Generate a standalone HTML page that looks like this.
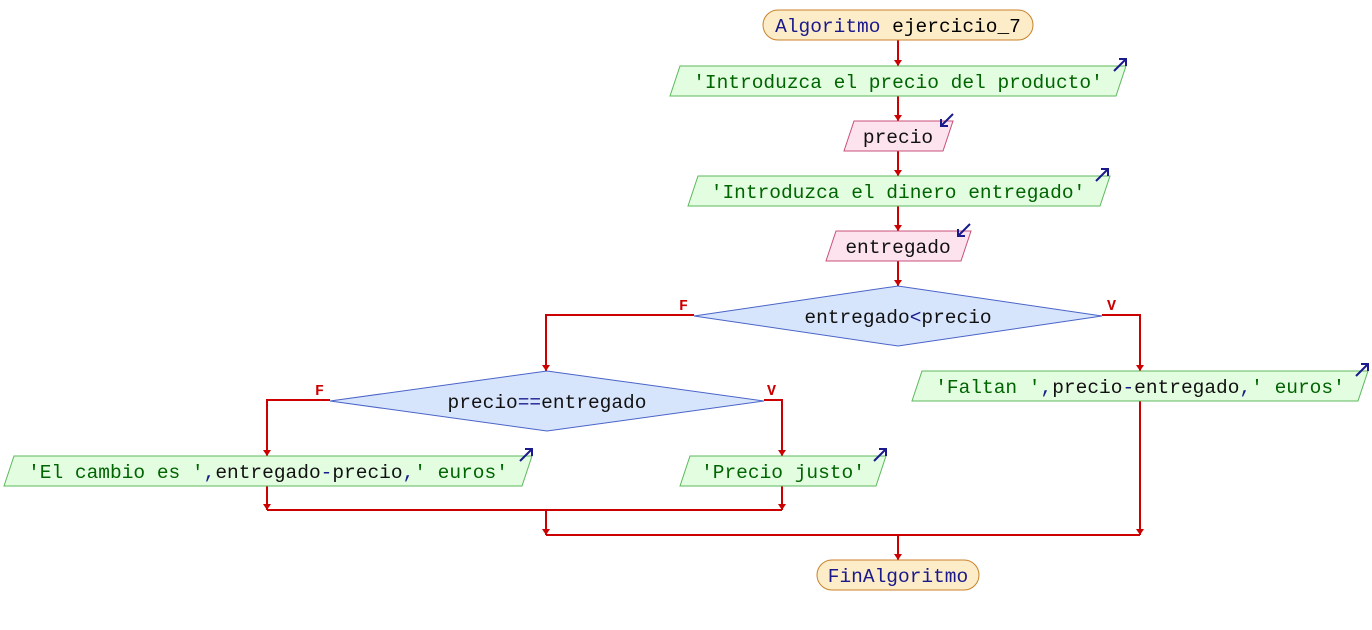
<!DOCTYPE html><html><head><style>body{margin:0;background:#fff}</style></head><body>
<svg width="1372" height="625" xmlns="http://www.w3.org/2000/svg" font-family="Liberation Mono, DejaVu Sans Mono, monospace" font-size="19.5">
<defs><marker id="a" markerWidth="8" markerHeight="6" refX="4" refY="6" orient="0" markerUnits="userSpaceOnUse"><path d="M0,0 L8,0 L4,6z" fill="#c00"/></marker></defs>
<g stroke="#c00" stroke-width="2" fill="none">
<path d="M898,40V66" marker-end="url(#a)"/>
<path d="M898,96V121" marker-end="url(#a)"/>
<path d="M898,151V176" marker-end="url(#a)"/>
<path d="M898,206V231" marker-end="url(#a)"/>
<path d="M898,261V286" marker-end="url(#a)"/>
<path d="M694,315H546V371" marker-end="url(#a)"/>
<path d="M1102,315H1140V371" marker-end="url(#a)"/>
<path d="M330,400H267V456" marker-end="url(#a)"/>
<path d="M764,400H782V456" marker-end="url(#a)"/>
<path d="M267,486V510" marker-end="url(#a)"/>
<path d="M782,486V510" marker-end="url(#a)"/>
<path d="M267,510H782"/>
<path d="M546,510V535" marker-end="url(#a)"/>
<path d="M1140,401V535" marker-end="url(#a)"/>
<path d="M546,535H1140"/>
<path d="M898,535V560" marker-end="url(#a)"/>
</g>
<g font-weight="bold" fill="#c00" font-size="15"><text x="679" y="310">F</text><text x="1107" y="310">V</text><text x="315" y="395">F</text><text x="767" y="395">V</text></g>
<rect x="763" y="10" width="270" height="30" rx="15" fill="#fdecc8" stroke="#c8822a"/>
<text x="898" y="32" text-anchor="middle"><tspan fill="#1a1a8c">Algoritmo</tspan> ejercicio_7</text>
<rect x="817" y="560" width="162" height="30" rx="15" fill="#fdecc8" stroke="#c8822a"/>
<text x="898" y="582" text-anchor="middle" fill="#1a1a8c">FinAlgoritmo</text>
<g fill="#e3fde1" stroke="#5cb85c">
<path d="M680,66H1126L1116,96H670z"/><path d="M698,176H1110L1100,206H688z"/>
<path d="M922,371H1368L1358,401H912z"/><path d="M14,456H532L522,486H4z"/><path d="M690,456H886L876,486H680z"/>
</g>
<g fill="#fde3ee" stroke="#c8507a"><path d="M854,121H953L943,151H844z"/><path d="M836,231H971L961,261H826z"/></g>
<g fill="#d6e4fc" stroke="#4a64c8"><path d="M694,316L898,286L1102,316L898,346z"/><path d="M330,401L547,371L764,401L547,431z"/></g>
<g fill="#006400">
<text x="898" y="88" text-anchor="middle">'Introduzca el precio del producto'</text>
<text x="898" y="198" text-anchor="middle">'Introduzca el dinero entregado'</text>
<text x="783" y="478" text-anchor="middle">'Precio justo'</text>
</g>
<text x="1140" y="393" text-anchor="middle" fill="#006400">'Faltan '<tspan fill="#1a1a8c">,</tspan><tspan fill="#111">precio</tspan><tspan fill="#1a1a8c">-</tspan><tspan fill="#111">entregado</tspan><tspan fill="#1a1a8c">,</tspan>' euros'</text>
<text x="268" y="478" text-anchor="middle" fill="#006400">'El cambio es '<tspan fill="#1a1a8c">,</tspan><tspan fill="#111">entregado</tspan><tspan fill="#1a1a8c">-</tspan><tspan fill="#111">precio</tspan><tspan fill="#1a1a8c">,</tspan>' euros'</text>
<g fill="#111">
<text x="898" y="143" text-anchor="middle">precio</text>
<text x="898" y="253" text-anchor="middle">entregado</text>
<text x="898" y="323" text-anchor="middle">entregado<tspan fill="#1a1a8c">&lt;</tspan>precio</text>
<text x="547" y="408" text-anchor="middle">precio<tspan fill="#1a1a8c">==</tspan>entregado</text>
</g>
<g stroke="#1a1a8c" stroke-width="2" fill="none">
<path d="M1114,71L1126,59M1119,59H1126V66"/><path d="M1096,181L1108,169M1101,169H1108V176"/>
<path d="M1356,376L1368,364M1361,364H1368V371"/><path d="M520,461L532,449M525,449H532V456"/>
<path d="M874,461L886,449M879,449H886V456"/>
<path d="M953,114L941,126M941,119V126H948"/><path d="M970,224L958,236M958,229V236H965"/>
</g>
</svg></body></html>
